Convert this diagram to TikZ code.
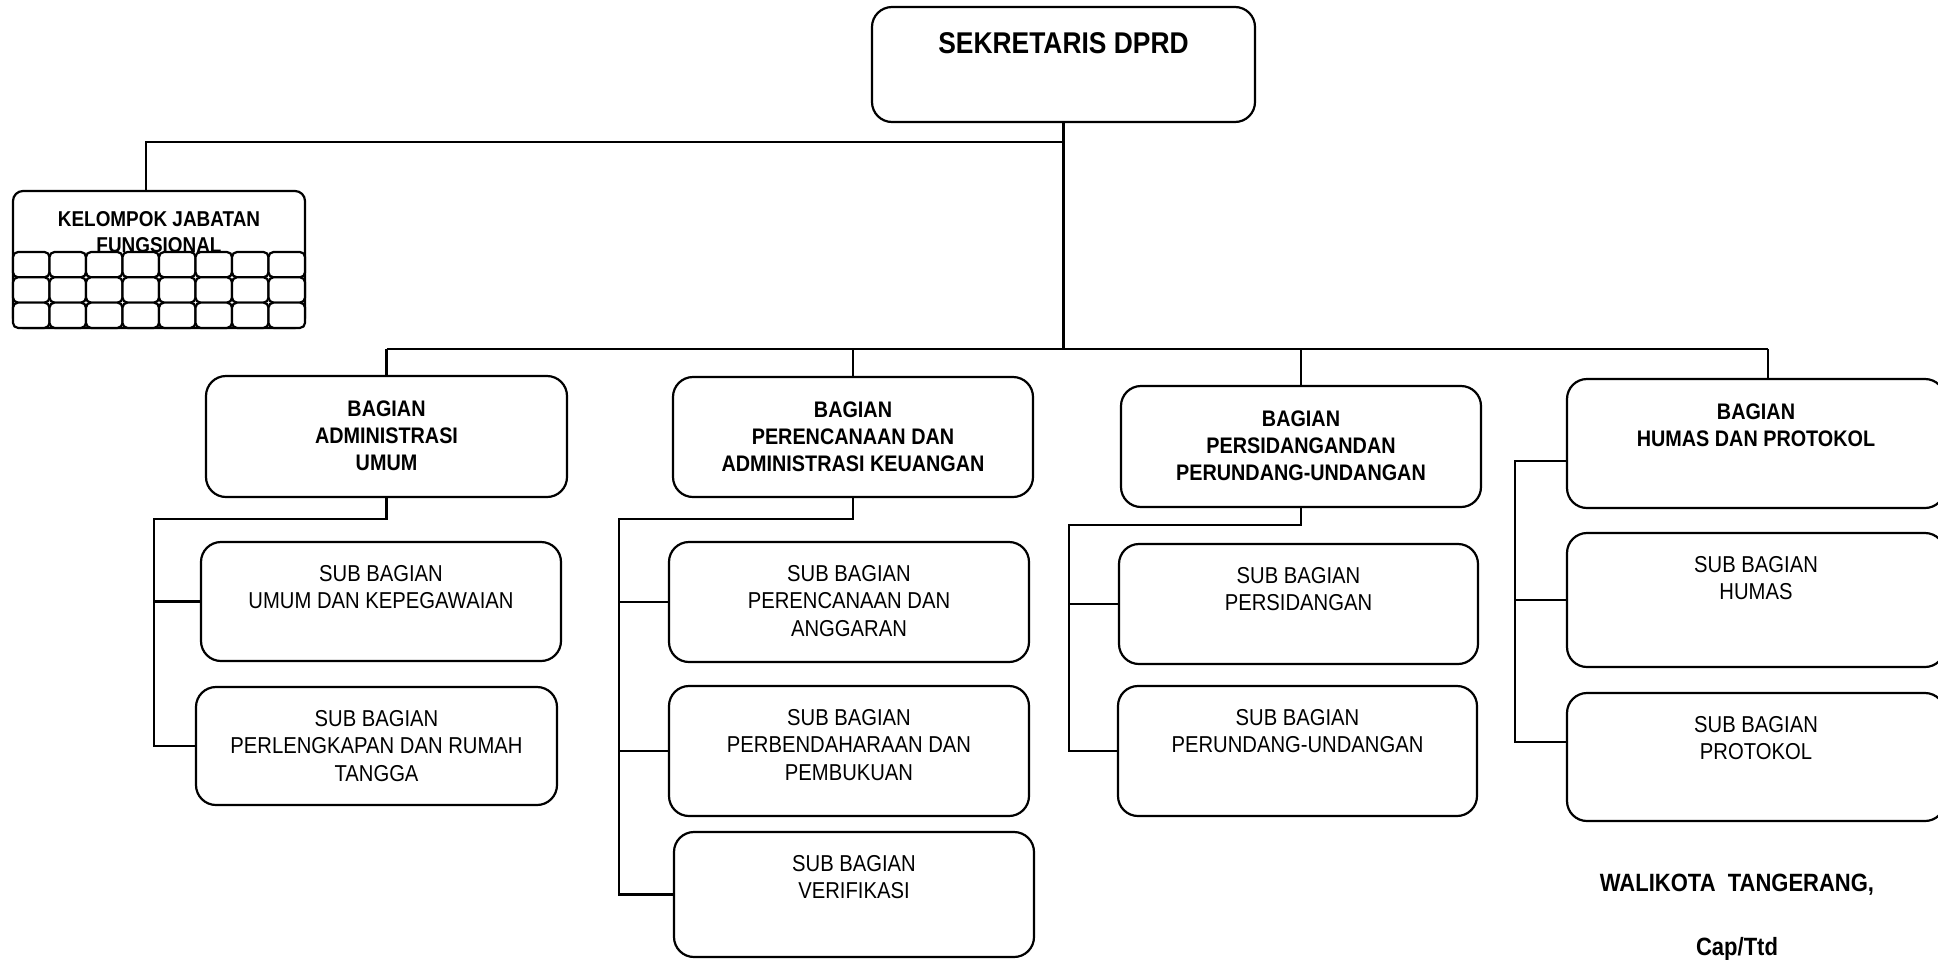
\documentclass[tikz,border=0pt]{standalone}
\usepackage{fontspec}
\setmainfont{Liberation Sans}[FakeStretch=0.88]
\usetikzlibrary{positioning}

\tikzset{
  orgbox/.style={draw, rounded corners=20pt, inner sep=0pt},
  subtxt/.style={font=\fontsize{23}{27.5}\selectfont, align=center, inner sep=0pt},
  bagtxt/.style={font=\bfseries\fontsize{22.5}{27}\selectfont, align=center, inner sep=0pt},
}

\begin{document}
\begin{tikzpicture}[x=1pt, y=-1pt, line width=2.2pt]
  \useasboundingbox (0,0) rectangle (1938,959);

  \node[orgbox, minimum width=383, minimum height=115] (sek) at (1063.5,64.5) {};
  \node[below=26pt of sek.north, font=\bfseries\fontsize{30}{34}\selectfont, inner sep=0pt] (sektxt) {SEKRETARIS DPRD};

  \node[orgbox, rounded corners=10pt, minimum width=292, minimum height=137] (kel) at (159,259.5) {};
  \node[below=20pt of kel.north, font=\bfseries\fontsize{21.5}{26}\selectfont, align=center, inner sep=0pt] (keltxt) {KELOMPOK JABATAN\\FUNGSIONAL};
  \foreach \c in {0,...,7}
    \foreach \r in {0,1,2}
      \draw[fill=white, rounded corners=5pt] (13+\c*36.5,252+\r*25.3) rectangle ++(36.5,25.3);

  \node[orgbox, minimum width=361, minimum height=121] (adm) at (386.5,436.5) {};
  \node[bagtxt, below=25pt of adm.north] (admtxt) {BAGIAN\\ADMINISTRASI\\UMUM};
  \node[orgbox, minimum width=360, minimum height=120] (ren) at (853,437) {};
  \node[bagtxt, below=25pt of ren.north] (rentxt) {BAGIAN\\PERENCANAAN DAN\\ADMINISTRASI KEUANGAN};
  \node[orgbox, minimum width=360, minimum height=121] (sid) at (1301,446.5) {};
  \node[bagtxt, below=25pt of sid.north] (sidtxt) {BAGIAN\\PERSIDANGANDAN\\PERUNDANG-UNDANGAN};
  \node[orgbox, minimum width=378, minimum height=129] (hum) at (1756,443.5) {};
  \node[bagtxt, below=25pt of hum.north] (humtxt) {BAGIAN\\HUMAS DAN PROTOKOL};

  \node[orgbox, minimum width=360, minimum height=119] (s11) at (381,601.5) {};
  \node[subtxt, below=23pt of s11.north] (s11txt) {SUB BAGIAN\\UMUM DAN KEPEGAWAIAN};
  \node[orgbox, minimum width=361, minimum height=118] (s12) at (376.5,746) {};
  \node[subtxt, below=23pt of s12.north] (s12txt) {SUB BAGIAN\\PERLENGKAPAN DAN RUMAH\\TANGGA};

  \node[orgbox, minimum width=360, minimum height=120] (s21) at (849,602) {};
  \node[subtxt, below=23pt of s21.north] (s21txt) {SUB BAGIAN\\PERENCANAAN DAN\\ANGGARAN};
  \node[orgbox, minimum width=360, minimum height=130] (s22) at (849,751) {};
  \node[subtxt, below=23pt of s22.north] (s22txt) {SUB BAGIAN\\PERBENDAHARAAN DAN\\PEMBUKUAN};
  \node[orgbox, minimum width=360, minimum height=125] (s23) at (854,894.5) {};
  \node[subtxt, below=23pt of s23.north] (s23txt) {SUB BAGIAN\\VERIFIKASI};

  \node[orgbox, minimum width=359, minimum height=120] (s31) at (1298.5,604) {};
  \node[subtxt, below=23pt of s31.north] (s31txt) {SUB BAGIAN\\PERSIDANGAN};
  \node[orgbox, minimum width=359, minimum height=130] (s32) at (1297.5,751) {};
  \node[subtxt, below=23pt of s32.north] (s32txt) {SUB BAGIAN\\PERUNDANG-UNDANGAN};

  \node[orgbox, minimum width=378, minimum height=134] (s41) at (1756,600) {};
  \node[subtxt, below=23pt of s41.north] (s41txt) {SUB BAGIAN\\HUMAS};
  \node[orgbox, minimum width=378, minimum height=128] (s42) at (1756,757) {};
  \node[subtxt, below=23pt of s42.north] (s42txt) {SUB BAGIAN\\PROTOKOL};

  \node[anchor=base, font=\bfseries\fontsize{25}{28}\selectfont, inner sep=0pt] (wali) at (1737,891) {WALIKOTA\ \ TANGERANG,};
  \node[anchor=base, font=\bfseries\fontsize{25}{28}\selectfont, inner sep=0pt] (ttd) at (1737,955) {Cap/Ttd};

  % garis
  \coordinate (kj) at (146,142);
  \coordinate (busL) at (388,349);
  \coordinate (humtop) at ([xshift=12pt]hum.north);
  \draw (sek.south) -- (sek.south |- busL);
  \draw (sek.south |- kj) -- (kj) -- (kj |- kel.north);
  \draw (adm.north |- busL) -- (humtop |- busL);
  \draw (adm.north) -- (adm.north |- busL);
  \draw (ren.north) -- (ren.north |- busL);
  \draw (sid.north) -- (sid.north |- busL);
  \draw (humtop) -- (humtop |- busL);

  \coordinate (c1) at (154,519);
  \draw (adm.south) -- (adm.south |- c1) -- (c1) -- (c1 |- s12.west) -- (s12.west);
  \draw (c1 |- s11.west) -- (s11.west);

  \coordinate (c2) at (619,519);
  \draw (ren.south) -- (ren.south |- c2) -- (c2) -- (c2 |- s23.west) -- (s23.west);
  \draw (c2 |- s21.west) -- (s21.west);
  \draw (c2 |- s22.west) -- (s22.west);

  \coordinate (c3) at (1069,525);
  \draw (sid.south) -- (sid.south |- c3) -- (c3) -- (c3 |- s32.west) -- (s32.west);
  \draw (c3 |- s31.west) -- (s31.west);

  \coordinate (c4) at (1515,461);
  \coordinate (c4b) at (1515,742);
  \draw (c4 -| hum.west) -- (c4) -- (c4b) -- (c4b -| s42.west);
  \draw (c4 |- s41.west) -- (s41.west);
\end{tikzpicture}
\end{document}
